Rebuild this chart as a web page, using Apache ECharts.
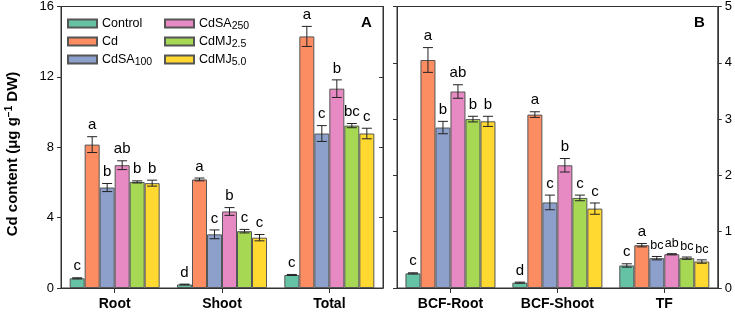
<!DOCTYPE html>
<html>
<head>
<meta charset="utf-8">
<script src="https://cdn.jsdelivr.net/npm/echarts@6/dist/echarts.min.js"></script>
<style>
html,body{margin:0;padding:0;background:#fff;}
#chart{width:735px;height:313px;}
</style>
</head>
<body>
<div id="chart"></div>
<script>
// Categories
const catsA = ['Root', 'Shoot', 'Total'];
const catsB = ['BCF-Root', 'BCF-Shoot', 'TF'];
const treatments = ['Control', 'Cd', 'CdSA100', 'CdSA250', 'CdMJ2.5', 'CdMJ5.0'];
const ticksA = [0, 4, 8, 12, 16];
const ticksB = [0, 1, 2, 3, 4, 5];

// Means: Root, Shoot, Total, BCF-Root, BCF-Shoot, TF
const valControl = [0.55, 0.20, 0.74, 0.26, 0.095, 0.40];
const valCd      = [8.15, 6.17, 14.30, 4.05, 3.08, 0.76];
const valSA100   = [5.71, 3.05, 8.78, 2.85, 1.52, 0.53];
const valSA250   = [6.98, 4.35, 11.33, 3.49, 2.18, 0.60];
const valMJ25    = [6.03, 3.23, 9.23, 3.00, 1.60, 0.53];
const valMJ50    = [5.96, 2.86, 8.78, 2.96, 1.41, 0.47];

// Standard errors
const errControl = [0.03, 0.02, 0.03, 0.01, 0.01, 0.03];
const errCd      = [0.45, 0.08, 0.57, 0.22, 0.05, 0.03];
const errSA100   = [0.23, 0.25, 0.45, 0.11, 0.13, 0.03];
const errSA250   = [0.25, 0.22, 0.50, 0.12, 0.12, 0.01];
const errMJ25    = [0.06, 0.10, 0.12, 0.05, 0.05, 0.02];
const errMJ50    = [0.17, 0.18, 0.30, 0.09, 0.10, 0.03];

// Significance letters
const letControl = ['c', 'd', 'c', 'c', 'd', 'c'];
const letCd      = ['a', 'a', 'a', 'a', 'a', 'a'];
const letSA100   = ['b', 'c', 'c', 'b', 'c', 'bc'];
const letSA250   = ['ab', 'b', 'b', 'ab', 'b', 'ab'];
const letMJ25    = ['b', 'c', 'bc', 'b', 'c', 'bc'];
const letMJ50    = ['b', 'c', 'c', 'b', 'c', 'bc'];

const vals = [valControl, valCd, valSA100, valSA250, valMJ25, valMJ50];
const errs = [errControl, errCd, errSA100, errSA250, errMJ25, errMJ50];
const lets = [letControl, letCd, letSA100, letSA250, letMJ25, letMJ50];
const colors = ['#66c2a5', '#fc8d62', '#8da0cb', '#e78ac3', '#a6d854', '#ffd92f'];

const FONT = '"Liberation Sans", Arial, sans-serif';
const BAR_W = 15;
const AX = '#333';

const legendNames = {
  'Control': 'Control', 'Cd': 'Cd', 'CdSA100': 'CdSA{sub|100}', 'CdSA250': 'CdSA{sub|250}',
  'CdMJ2.5': 'CdMJ{sub|2.5}', 'CdMJ5.0': 'CdMJ{sub|5.0}'
};

const series = [];
[0, 1].forEach(function (p) {
  const off = p * 3;
  treatments.forEach(function (t, i) {
    series.push({
      type: 'bar', name: t,
      xAxisIndex: p, yAxisIndex: p === 0 ? 0 : 2,
      barWidth: BAR_W, barGap: '0%',
      itemStyle: { color: colors[i], borderColor: '#555', borderWidth: 1 },
      data: vals[i].slice(off, off + 3)
    });
  });
  const data = [];
  const letters = [];
  const cats = p === 0 ? catsA : catsB;
  for (let c = 0; c < 3; c++) {
    for (let i = 0; i < 6; i++) {
      data.push([c, vals[i][off + c], errs[i][off + c], i]);
      letters.push({ text: lets[i][off + c], cat: cats[c] });
    }
  }
  series.push({
    type: 'custom', name: 'err' + p,
    xAxisIndex: p, yAxisIndex: p === 0 ? 0 : 2,
    z: 5, silent: true,
    data: data,
    encode: { x: 0, y: 1 },
    renderItem: function (params, api) {
      const c = api.value(0), v = api.value(1), e = api.value(2), i = api.value(3);
      const cx = api.coord([c, v])[0] + (i - 2.5) * BAR_W;
      const yT = api.coord([c, v + e])[1];
      const yB = api.coord([c, v - e])[1];
      const lt = letters[params.dataIndex];
      const fs = (lt.cat === 'TF' && lt.text.length > 1) ? 12.5 : 15;
      const ls = { stroke: '#222', lineWidth: 1 };
      return {
        type: 'group',
        children: [
          { type: 'line', shape: { x1: cx, y1: yT, x2: cx, y2: yB }, style: ls },
          { type: 'line', shape: { x1: cx - 5, y1: yT, x2: cx + 5, y2: yT }, style: ls },
          { type: 'line', shape: { x1: cx - 5, y1: yB, x2: cx + 5, y2: yB }, style: ls },
          { type: 'text', style: { text: lt.text, x: cx, y: yT - 4, align: 'center', verticalAlign: 'bottom',
              fontSize: fs, fontFamily: FONT, fill: '#000' } }
        ]
      };
    }
  });
});

function legendCfg(names, left) {
  return {
    data: names, left: left, top: 15, orient: 'vertical', padding: 0,
    itemWidth: 29, itemHeight: 8, itemGap: 1, icon: 'rect',
    formatter: function (n) { return legendNames[n]; },
    textStyle: {
      fontSize: 12.5, fontFamily: FONT, color: '#000', lineHeight: 17,
      rich: { sub: { fontSize: 10.5, lineHeight: 8, verticalAlign: 'bottom', fontFamily: FONT, color: '#000' } }
    }
  };
}

function yAx(gi, pos, max, showLabel, inside) {
  return {
    type: 'value', gridIndex: gi, position: pos, min: 0, max: max, interval: (max === 16 ? 4 : 1),
    axisLine: { show: true, lineStyle: { color: AX } },
    axisTick: { show: true, inside: inside, length: 4, lineStyle: { color: AX } },
    axisLabel: { show: showLabel, fontSize: 13, fontFamily: FONT, color: '#000', margin: 7 },
    splitLine: { show: false }
  };
}

function xAx(gi, cats) {
  return {
    type: 'category', gridIndex: gi, data: cats,
    axisLine: { show: true, lineStyle: { color: AX } },
    axisTick: { show: true, alignWithLabel: true, length: 5, lineStyle: { color: AX } },
    axisLabel: { fontSize: 14, fontWeight: 'bold', fontFamily: FONT, color: '#000', margin: 9 }
  };
}

const option = {
  animation: false,
  backgroundColor: '#fff',
  grid: [
    { left: 61, right: 352, top: 6, bottom: 25, show: true, borderColor: AX, borderWidth: 1, backgroundColor: 'transparent' },
    { left: 397, right: 14, top: 6, bottom: 25, show: true, borderColor: AX, borderWidth: 1, backgroundColor: 'transparent' }
  ],
  xAxis: [xAx(0, catsA), xAx(1, catsB)],
  yAxis: [
    yAx(0, 'left', 16, true, false),
    yAx(0, 'right', 16, false, true),
    yAx(1, 'left', 5, false, false),
    yAx(1, 'right', 5, true, false)
  ],
  legend: [legendCfg(treatments.slice(0, 3), 67), legendCfg(treatments.slice(3), 164)],
  graphic: [
    { type: 'text', x: 13, y: 154, rotation: Math.PI / 2,
      style: { text: 'Cd content (μg g{sup|−1} DW)', align: 'center', verticalAlign: 'middle',
        fontSize: 15, fontWeight: 'bold', fontFamily: FONT, fill: '#000', lineHeight: 18,
        rich: { sup: { fontSize: 10, fontWeight: 'bold', lineHeight: 9, verticalAlign: 'top', fontFamily: FONT, fill: '#000' } } } },
    { type: 'text', left: 361, top: 15, style: { text: 'A', fontSize: 15, fontWeight: 'bold', fontFamily: FONT, fill: '#000' } },
    { type: 'text', left: 694, top: 15, style: { text: 'B', fontSize: 15, fontWeight: 'bold', fontFamily: FONT, fill: '#000' } }
  ],
  series: series
};

const chart = echarts.init(document.getElementById('chart'), null, { renderer: 'canvas' });
chart.setOption(option);
</script>
</body>
</html>
